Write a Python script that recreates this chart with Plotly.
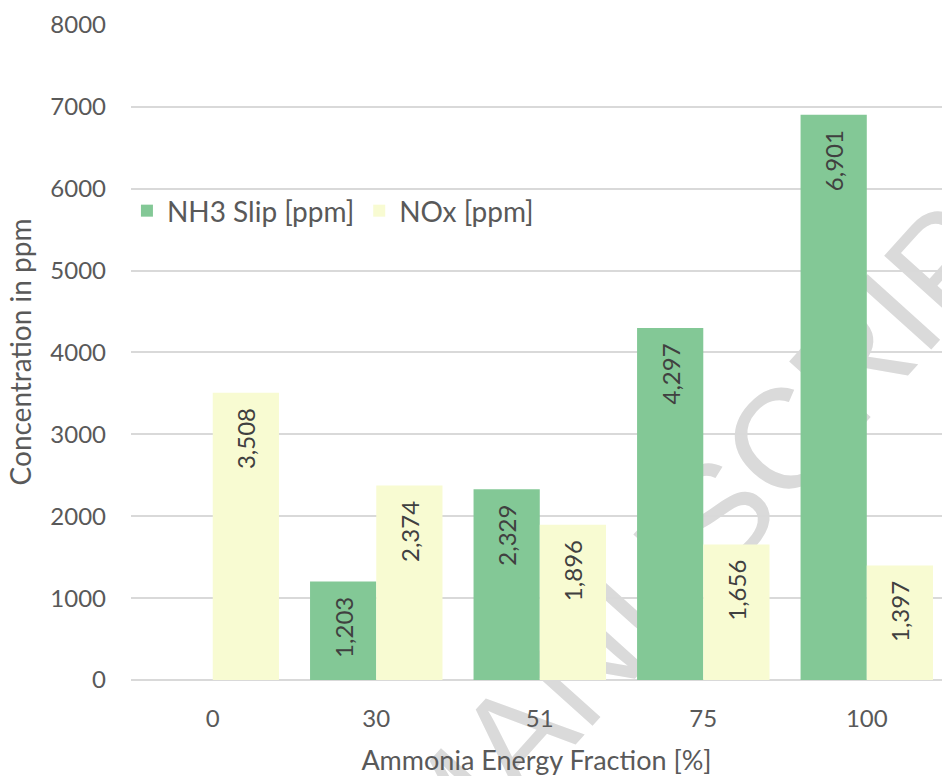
import plotly.graph_objects as go

# Ammonia energy fraction categories and measured concentrations (ppm)
categories = ["0", "30", "51", "75", "100"]
nh3_slip = [None, 1203, 2329, 4297, 6901]
nox = [3508, 2374, 1896, 1656, 1397]
y_ticks = [0, 1000, 2000, 3000, 4000, 5000, 6000, 7000, 8000]

FONT = "Lato"
TXT = "#595959"
W, H = 942, 776
L, R, T, B = 131, 0, 24, 96
pw, ph = W - L - R, H - T - B


def px_to_paper(x, y):
    return (x - L) / pw, (H - B - y) / ph


label_tpl = "%{y:,}\u00a0\u00a0"

fig = go.Figure()
fig.add_trace(go.Bar(
    name="NH3 Slip [ppm]", x=categories, y=nh3_slip,
    marker=dict(color="#83C896", line=dict(width=0)),
    texttemplate=label_tpl, textposition="inside", insidetextanchor="end",
    textangle=-90, textfont=dict(family=FONT, size=24, color="#404040"),
))
fig.add_trace(go.Bar(
    name="NOx [ppm]", x=categories, y=nox,
    marker=dict(color="#F8FBD2", line=dict(width=0)),
    texttemplate=label_tpl, textposition="inside", insidetextanchor="end",
    textangle=-90, textfont=dict(family=FONT, size=24, color="#404040"),
))

# faint diagonal watermark behind the plot
cx, cy = px_to_paper(438, 804)
fig.add_shape(
    type="rect", xref="paper", yref="paper",
    x0=cx - 0.05, x1=cx + 0.05, y0=cy - 0.05, y1=cy + 0.05,
    line=dict(width=0), fillcolor="rgba(0,0,0,0)", layer="below",
    label=dict(text="ACCEPTED MANUSCRIPT", textangle=-48,
               textposition="middle center",
               font=dict(family="Liberation Sans", size=142, color="#DADADA")),
)

fig.update_layout(
    width=W, height=H,
    margin=dict(l=L, r=R, t=T, b=B, autoexpand=False),
    paper_bgcolor="white", plot_bgcolor="rgba(0,0,0,0)",
    barmode="group", bargap=0.19, bargroupgap=0,
    font=dict(family=FONT, color=TXT),
    uniformtext=dict(minsize=24, mode="show"),
    showlegend=True,
    legend=dict(orientation="h", x=-0.005, xanchor="left", y=0.715, yanchor="middle",
                font=dict(family=FONT, size=28, color=TXT), bgcolor="rgba(0,0,0,0)",
                traceorder="normal"),
    xaxis=dict(
        type="category", range=[-0.5, 4.46], showgrid=False, ticks="",
        showline=False, zeroline=False,
        tickfont=dict(family=FONT, size=24, color=TXT), ticklabelstandoff=22,
        title=dict(text="Ammonia Energy Fraction [%]", standoff=20,
                   font=dict(family=FONT, size=27, color=TXT)),
    ),
    yaxis=dict(
        range=[0, 8010], tickvals=y_ticks, ticks="",
        showgrid=True, gridcolor="#D9D9D9", gridwidth=1.5,
        zeroline=True, zerolinecolor="#D9D9D9", zerolinewidth=2,
        showline=False,
        tickfont=dict(family=FONT, size=24, color=TXT), ticklabelstandoff=24,
        title=dict(text="Concentration in ppm", standoff=10,
                   font=dict(family=FONT, size=28, color=TXT)),
    ),
)

fig.write_html("out.html")
